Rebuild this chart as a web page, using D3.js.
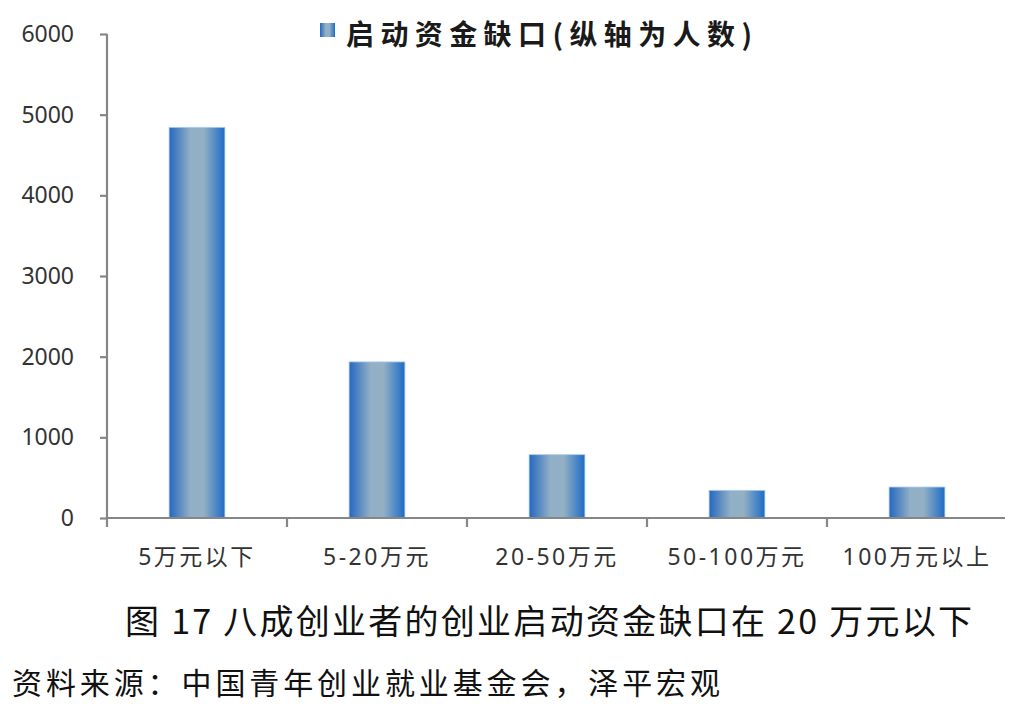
<!DOCTYPE html>
<html>
<head>
<meta charset="utf-8">
<script src="https://cdn.jsdelivr.net/npm/d3@7"></script>
<style>
  body { margin: 0; background: #fff; }
  text { font-family: "Noto Sans", "Noto Sans CJK SC", sans-serif; }
</style>
</head>
<body>
<div id="chart"></div>
<script>
// chart data
var categories = ["5万元以下", "5-20万元", "20-50万元", "50-100万元", "100万元以上"];
var values = [4843, 1935, 785, 343, 384];
var yTicks = [0, 1000, 2000, 3000, 4000, 5000, 6000];
var seriesName = "启动资金缺口(纵轴为人数)";
var caption = "图 17  八成创业者的创业启动资金缺口在 20 万元以下";
var source = "资料来源：中国青年创业就业基金会，泽平宏观";

var svgWidth = 1011;
var svgHeight = 712;

var margin = { top: 34, right: 4, bottom: 194, left: 107 };
var width = 1007 - margin.left;
var height = 518 - margin.top;

var svg = d3.select("#chart")
  .append("svg")
  .attr("width", svgWidth)
  .attr("height", svgHeight);

// gradient for the bars: dark blue edges, grey-blue middle
var grad = svg.append("defs").append("linearGradient")
  .attr("id", "barGrad")
  .attr("x1", "0%").attr("x2", "100%")
  .attr("y1", "0%").attr("y2", "0%");
grad.append("stop").attr("offset", "0%").attr("stop-color", "#2467c0");
grad.append("stop").attr("offset", "38%").attr("stop-color", "#91afc6");
grad.append("stop").attr("offset", "62%").attr("stop-color", "#93b0c5");
grad.append("stop").attr("offset", "100%").attr("stop-color", "#1c6bc6");

var chartGroup = svg.append("g")
  .attr("transform", `translate(${margin.left}, ${margin.top})`);

var xScale = d3.scaleBand()
  .domain(categories)
  .range([0, width])
  .paddingInner(0.69)
  .paddingOuter(0.345);

var xBand = d3.scaleBand()
  .domain(categories)
  .range([0, width]);

var yScale = d3.scaleLinear()
  .domain([0, 6000])
  .range([height, 0]);

// y axis
var leftAxis = d3.axisLeft(yScale)
  .tickValues(yTicks)
  .tickSize(7)
  .tickPadding(26)
  .tickFormat(d3.format("d"));

var yAxisG = chartGroup.append("g").call(leftAxis);
yAxisG.select(".domain").remove();
yAxisG.append("line")
  .attr("x1", 0).attr("x2", 0)
  .attr("y1", 0).attr("y2", height)
  .attr("stroke", "#868686")
  .attr("stroke-width", 2.2);
yAxisG.selectAll(".tick line")
  .attr("stroke", "#868686")
  .attr("stroke-width", 2.2);
yAxisG.selectAll(".tick text")
  .attr("fill", "#333")
  .attr("font-size", "23px");

// bars
chartGroup.selectAll(".bar")
  .data(values)
  .enter()
  .append("rect")
  .attr("class", "bar")
  .attr("x", (d, i) => xScale(categories[i]))
  .attr("y", d => yScale(d))
  .attr("width", xScale.bandwidth())
  .attr("height", d => height - yScale(d))
  .attr("fill", "url(#barGrad)")
  .attr("stroke", "#a9cdee")
  .attr("stroke-width", 0.8);

// x axis
var xAxisG = chartGroup.append("g")
  .attr("transform", `translate(0, ${height})`);
xAxisG.append("line")
  .attr("x1", 0).attr("x2", width - 2)
  .attr("y1", 0).attr("y2", 0)
  .attr("stroke", "#868686")
  .attr("stroke-width", 2.2);
xAxisG.selectAll(".sep")
  .data(categories)
  .enter()
  .append("line")
  .attr("class", "sep")
  .attr("x1", d => xBand(d)).attr("x2", d => xBand(d))
  .attr("y1", 0).attr("y2", 9)
  .attr("stroke", "#868686")
  .attr("stroke-width", 2.2);
xAxisG.selectAll(".xlabel")
  .data(categories)
  .enter()
  .append("text")
  .attr("class", "xlabel")
  .attr("x", d => xBand(d) + xBand.bandwidth() / 2)
  .attr("y", 47)
  .attr("text-anchor", "middle")
  .attr("fill", "#333")
  .attr("font-size", "23px")
  .attr("letter-spacing", "2.5px")
  .text(d => d);

// legend
var legend = svg.append("g").attr("transform", "translate(320, 23)");
legend.append("rect")
  .attr("width", 15).attr("height", 14)
  .attr("fill", "url(#barGrad)");
legend.append("text")
  .attr("x", 26)
  .attr("y", 22)
  .attr("font-size", "28px")
  .attr("font-weight", "bold")
  .attr("fill", "#1a1a1a")
  .attr("textLength", 406)
  .attr("lengthAdjust", "spacing")
  .style("font-family", "'Noto Sans CJK SC', sans-serif")
  .text(seriesName);

// caption and source
svg.append("text")
  .attr("x", 125)
  .attr("y", 634)
  .attr("font-size", "34px")
  .attr("fill", "#111")
  .attr("textLength", 847)
  .attr("lengthAdjust", "spacing")
  .style("font-family", "'Noto Sans CJK SC', sans-serif")
  .text(caption);

svg.append("text")
  .attr("x", 12)
  .attr("y", 694)
  .attr("font-size", "30px")
  .attr("fill", "#111")
  .attr("textLength", 708)
  .attr("lengthAdjust", "spacing")
  .style("font-family", "'Noto Sans CJK SC', sans-serif")
  .text(source);
</script>
</body>
</html>
